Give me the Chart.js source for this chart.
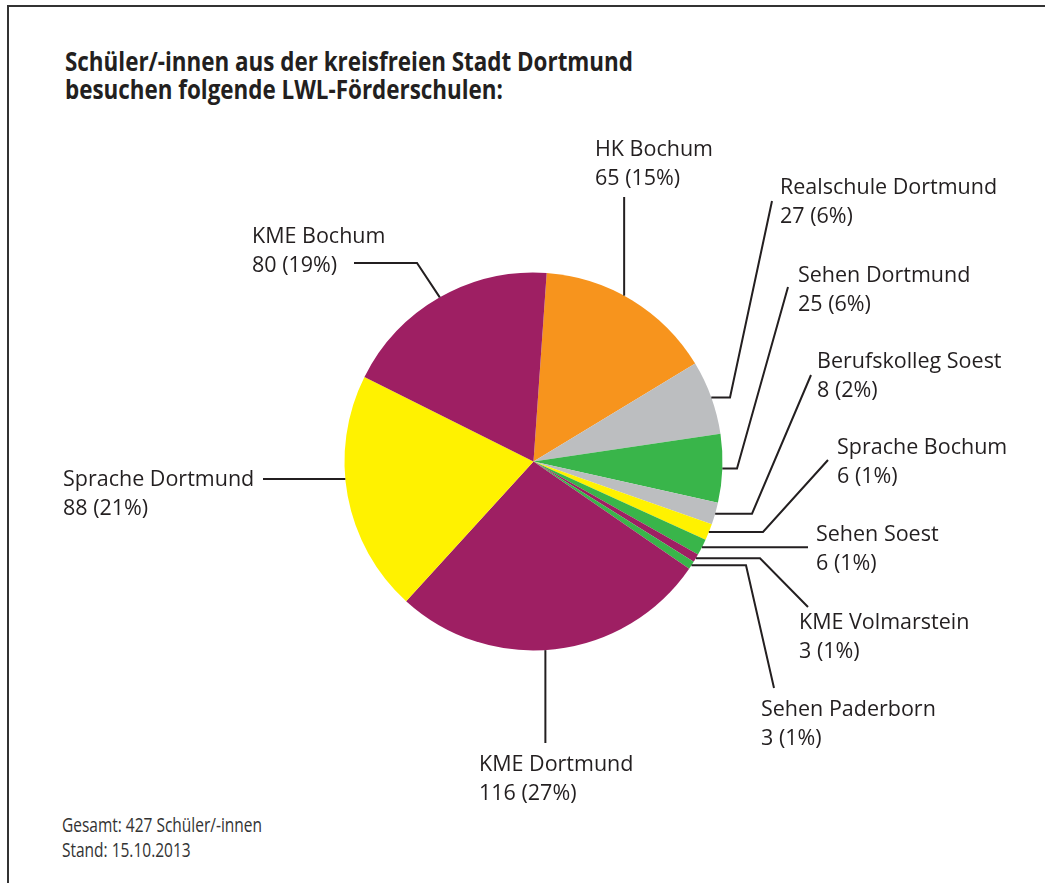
<!DOCTYPE html>
<html lang="de">
<head>
<meta charset="utf-8">
<script src="https://cdn.jsdelivr.net/npm/chart.js@4"></script>
<style>
  html, body { margin: 0; padding: 0; background: #fff; }
  body { width: 1045px; height: 883px; position: relative; overflow: hidden; font-family: "Open Sans", sans-serif; color: #231f20; }
  #frame { position: absolute; left: 7px; top: 5px; width: 1100px; height: 1000px; border-top: 2px solid #333; border-left: 2px solid #333; }
  #title { position: absolute; left: 65px; top: 46.5px; font-weight: bold; font-size: 27px; line-height: 28px; white-space: nowrap; }
  #footer { position: absolute; left: 62px; top: 812px; font-size: 20px; line-height: 25px; white-space: nowrap; color: #333; }
  .fit { display: inline-block; transform-origin: 0 0; }
  #c { position: absolute; left: 0; top: 0; }
</style>
</head>
<body>
<div id="frame"></div>
<div id="title"><span class="fit" data-w="568">Schüler/-innen aus der kreisfreien Stadt Dortmund</span><br><span class="fit">besuchen folgende LWL-Förderschulen:</span></div>
<div id="footer"><span class="fit" data-w="200">Gesamt: 427 Schüler/-innen</span><br><span class="fit">Stand: 15.10.2013</span></div>
<canvas id="c" width="1045" height="883"></canvas>
<script>
const schools = ['HK Bochum', 'Realschule Dortmund', 'Sehen Dortmund', 'Berufskolleg Soest', 'Sprache Bochum',
  'Sehen Soest', 'KME Volmarstein', 'Sehen Paderborn', 'KME Dortmund', 'Sprache Dortmund', 'KME Bochum'];
const pupils = [65, 27, 25, 8, 6, 6, 3, 3, 116, 88, 80];
const sliceColors = ['#f7941d', '#bcbec0', '#39b54a', '#bcbec0', '#fff200',
  '#39b54a', '#9e1f63', '#39b54a', '#9e1f63', '#fff200', '#9e1f63'];

// where each label sits (x, baseline of first line) and how its leader runs
// leader: points after the edge point, null = keep previous coordinate; at = position inside slice
const labelLayout = [
  { x: 595, y: 156, at: 0.45, leader: [[null, 197]] },
  { x: 780, y: 194, leader: [[730, null], [772, 201]] },
  { x: 798, y: 282, leader: [[737, null], [788, 287]] },
  { x: 817, y: 368, leader: [[752, null], [811, 375]] },
  { x: 837, y: 454, leader: [[763, null], [828, 460]] },
  { x: 816, y: 541, leader: [[808, null]] },
  { x: 799, y: 629, leader: [[760, null], [808, 607]] },
  { x: 761, y: 716, leader: [[746, null], [774, 688]] },
  { x: 479, y: 771, at: 0.53, leader: [[null, 743]] },
  { x: 63, y: 486, at: 0.57, leader: [[263, null]] },
  { x: 252, y: 243, leader: [[417, 263], [354, 263]] }
];

// squeeze title/footer to the condensed look of the original
document.querySelectorAll('#title, #footer').forEach(box => {
  const spans = box.querySelectorAll('.fit');
  const k = Number(spans[0].dataset.w) / spans[0].getBoundingClientRect().width;
  spans.forEach(s => s.style.transform = 'scaleX(' + k + ')');
});

const total = pupils.reduce((a, b) => a + b, 0);

const leaderLabels = {
  id: 'leaderLabels',
  afterDraw(chart) {
    const ctx = chart.ctx;
    const arcs = chart.getDatasetMeta(0).data;
    ctx.save();
    ctx.strokeStyle = '#231f20';
    ctx.lineWidth = 2;
    ctx.lineJoin = 'miter';
    ctx.fillStyle = '#231f20';
    ctx.font = '21.5px "Open Sans"';
    ctx.textBaseline = 'alphabetic';
    arcs.forEach((arc, i) => {
      const p = arc.getProps(['x', 'y', 'startAngle', 'endAngle', 'outerRadius'], true);
      const lay = labelLayout[i];
      const t = lay.at == null ? 0.5 : lay.at;
      const a = p.startAngle + (p.endAngle - p.startAngle) * t;
      let px = p.x + Math.cos(a) * p.outerRadius;
      let py = p.y + Math.sin(a) * p.outerRadius;
      ctx.beginPath();
      ctx.moveTo(px, py);
      lay.leader.forEach(pt => {
        px = pt[0] == null ? px : pt[0];
        py = pt[1] == null ? py : pt[1];
        ctx.lineTo(px, py);
      });
      ctx.stroke();
      const pct = Math.round(pupils[i] / total * 100);
      ctx.fillText(schools[i], lay.x, lay.y);
      ctx.fillText(pupils[i] + ' (' + pct + '%)', lay.x, lay.y + 28.5);
    });
    ctx.restore();
  }
};

new Chart(document.getElementById('c'), {
  type: 'pie',
  data: {
    labels: schools,
    datasets: [{
      data: pupils,
      backgroundColor: sliceColors,
      borderWidth: 0
    }]
  },
  options: {
    responsive: false,
    animation: false,
    rotation: 4,
    layout: { padding: { left: 344.5, top: 272.5, right: 322.5, bottom: 232.5 } },
    plugins: { legend: { display: false }, tooltip: { enabled: false } }
  },
  plugins: [leaderLabels]
});
</script>
</body>
</html>
